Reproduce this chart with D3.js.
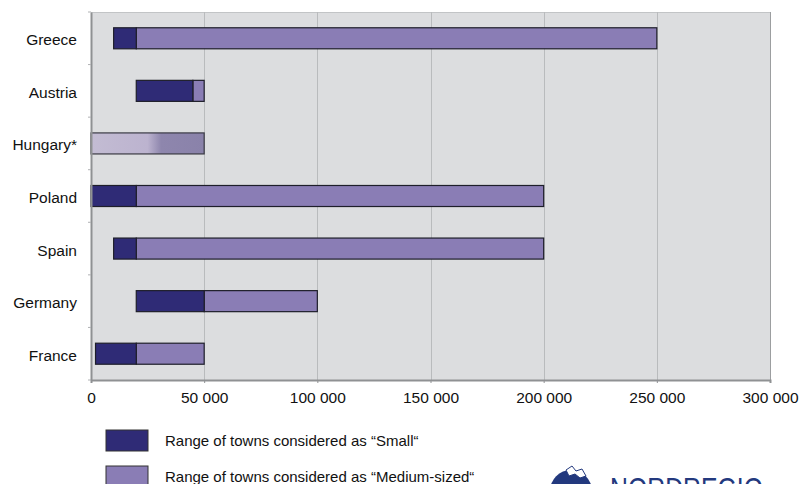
<!DOCTYPE html>
<html><head><meta charset="utf-8">
<script src="https://cdn.jsdelivr.net/npm/d3@7"></script>
<style>body{margin:0;background:#fff}svg{display:block;font-family:"Liberation Sans",Arial,sans-serif}</style>
</head><body>
<svg id="c" width="802" height="484"></svg>
<script>
const categories = ["Greece","Austria","Hungary*","Poland","Spain","Germany","France"];
const smallStart = [10000,20000,0,0,10000,20000,2000];
const smallEnd   = [20000,45000,30000,20000,20000,50000,20000];
const mediumEnd  = [250000,50000,50000,200000,200000,100000,50000];
const xTicks = [0,50000,100000,150000,200000,250000,300000];
const legendLabels = ["Range of towns considered as \u201CSmall\u201C","Range of towns considered as \u201CMedium-sized\u201C"];

const cSmall = "#2f2b76", cMed = "#8a7db5";
const svg = d3.select("#c");
const L = 91, R = 770, T = 12, B = 380;
const x = d3.scaleLinear().domain([0,300000]).range([L,R]);
const y = d3.scaleBand().domain(categories).range([T,B]).paddingInner(0.6).paddingOuter(0.3);

const defs = svg.append("defs");
const g = defs.append("linearGradient").attr("id","hg").attr("gradientUnits","userSpaceOnUse")
  .attr("x1",x(0)).attr("x2",x(50000)).attr("y1",0).attr("y2",0);
g.append("stop").attr("offset","0").attr("stop-color","#c3bcd3");
g.append("stop").attr("offset","0.5").attr("stop-color","#bcb3cf");
g.append("stop").attr("offset","0.62").attr("stop-color","#8e86ad");
g.append("stop").attr("offset","1").attr("stop-color","#8a82aa");

svg.append("rect").attr("x",L).attr("y",T).attr("width",R-L).attr("height",B-T).attr("fill","#dcdddf");
svg.append("line").attr("x1",L).attr("x2",R).attr("y1",T+0.5).attr("y2",T+0.5).attr("stroke","#c2c4c6");
// gridlines
svg.append("g").selectAll("line").data(xTicks.slice(1)).join("line")
  .attr("x1",d=>Math.round(x(d))+0.5).attr("x2",d=>Math.round(x(d))+0.5)
  .attr("y1",T).attr("y2",B).attr("stroke",(d,i)=>d===300000?"#9c9ea0":"#b9bbbd").attr("stroke-width",1);

// bars
const rows = categories.map((c,i)=>({c,s:smallStart[i],e:smallEnd[i],m:mediumEnd[i]}));
const bg = svg.append("g");
rows.forEach(r=>{
  if (r.c==="Hungary*") {
    bg.append("rect").attr("x",x(r.s)).attr("y",y(r.c)).attr("width",x(r.m)-x(r.s)).attr("height",y.bandwidth())
      .attr("fill","url(#hg)").attr("stroke","#3a3a44").attr("stroke-width",1.2);
  } else {
    bg.append("rect").attr("x",x(r.e)).attr("y",y(r.c)).attr("width",x(r.m)-x(r.e)).attr("height",y.bandwidth())
      .attr("fill",cMed).attr("stroke","#1e1e2a").attr("stroke-width",1.2);
    bg.append("rect").attr("x",x(r.s)).attr("y",y(r.c)).attr("width",x(r.e)-x(r.s)).attr("height",y.bandwidth())
      .attr("fill",cSmall).attr("stroke","#1e1e2a").attr("stroke-width",1.2);
  }
});

// axes
const xa = svg.append("g").attr("transform",`translate(0,${B})`)
  .call(d3.axisBottom(x).tickValues(xTicks).tickSize(3).tickPadding(7)
    .tickFormat(d=>d3.format(",")(d).replace(/,/g," ")));
xa.select(".domain").attr("stroke","#8f9193").attr("stroke-width",2);
xa.selectAll(".tick line").attr("stroke","#8f9193");
xa.selectAll("text").attr("font-size",15.5).attr("fill","#111").attr("font-family","'Liberation Sans',Arial,sans-serif").attr("dy","0.85em");

const ya = svg.append("g").attr("transform",`translate(${L},0)`)
  .call(d3.axisLeft(y).tickSize(0).tickPadding(14));
ya.select(".domain").attr("stroke","#8f9193").attr("stroke-width",2);
ya.selectAll("text").attr("font-size",15.5).attr("fill","#111").attr("font-family","'Liberation Sans',Arial,sans-serif").attr("dy","0.45em");
const seps = categories.slice(1).map(c=>y(c)-y.step()*y.paddingInner()/2);
svg.append("g").selectAll("line").data([T,...seps,B]).join("line")
  .attr("x1",L-3).attr("x2",L).attr("y1",d=>d).attr("y2",d=>d).attr("stroke","#b0b2b4");

// legend
const lg = svg.append("g");
[cSmall,cMed].forEach((c,i)=>{
  lg.append("rect").attr("x",106).attr("y",430+i*36).attr("width",42).attr("height",21)
    .attr("fill",c).attr("stroke","#333").attr("stroke-width",1);
  lg.append("text").attr("x",165).attr("y",441+i*36).attr("dy","0.35em").attr("font-size",15)
    .attr("fill","#111").text(legendLabels[i]);
});

// logo
const lo = svg.append("g");
lo.append("circle").attr("cx",571).attr("cy",491).attr("r",21).attr("fill","#23397e");
lo.append("path").attr("d","M566,470 L572,466 L576,471 L582,469 L586,476 L580,478 L575,474 L569,476 Z").attr("fill","#fff").attr("stroke","#23397e").attr("stroke-width",1);
lo.append("text").attr("x",610).attr("y",500).attr("font-size",32).attr("fill","#23397e")
  .attr("textLength",153).attr("lengthAdjust","spacingAndGlyphs")
  .attr("font-family","'Liberation Sans',Arial,sans-serif").text("NORDREGIO");
</script>
</body></html>
